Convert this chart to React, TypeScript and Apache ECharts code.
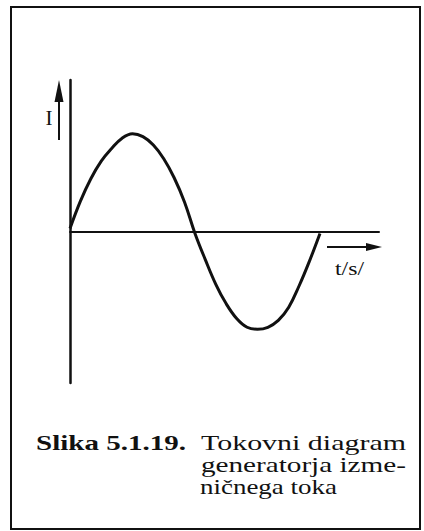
import React, { useEffect, useRef } from "react";
import * as echarts from "echarts";

// Time (arbitrary units, one full period = 360)
const tValues = [0, 15, 30, 45, 60, 75, 90, 105, 120, 135, 150, 165, 180, 195, 210, 225, 240, 255, 270, 285, 300, 315, 330, 345, 360];
// Current I (relative to peak)
const iValues = [0.03, 0.31, 0.54, 0.72, 0.85, 0.955, 1.0, 0.97, 0.885, 0.745, 0.55, 0.3, -0.02, -0.29, -0.54, -0.74, -0.89, -0.98, -1.0, -0.98, -0.91, -0.775, -0.555, -0.3, -0.02];

const xLabel = "t/s/";
const yLabel = "I";
const captionBold = "Slika 5.1.19.";
const captionLines = ["Tokovni diagram", "generatorja izme-", "ničnega toka"];

const INK = "#111";
const FAMILY = "Liberation Serif";

function measure(text: string, font: string): number {
  const ctx = document.createElement("canvas").getContext("2d");
  if (!ctx) return text.length * 10;
  ctx.font = font;
  return ctx.measureText(text).width;
}

function stretchedText(text: string, x: number, y: number, size: number, weight: string, target: number) {
  const w = measure(text, `${weight} ${size}px "${FAMILY}"`);
  return {
    type: "text",
    x,
    y,
    scaleX: w > 0 ? target / w : 1,
    scaleY: 1,
    style: {
      text,
      fill: INK,
      fontFamily: FAMILY,
      fontSize: size,
      fontWeight: weight,
      textAlign: "left",
      textVerticalAlign: "middle",
    },
  };
}

export default function App() {
  const ref = useRef<HTMLDivElement>(null);

  useEffect(() => {
    if (!ref.current) return;
    const chart = echarts.init(ref.current, undefined, { renderer: "svg" });
    const data = tValues.map((t, i) => [t, iValues[i]]);
    chart.setOption({
      animation: false,
      backgroundColor: "#fff",
      grid: { left: 70, right: 45, top: 80, bottom: 148 },
      xAxis: {
        type: "value",
        min: 0,
        max: 445,
        axisLine: { show: true, onZero: true, lineStyle: { color: INK, width: 2 } },
        axisTick: { show: false },
        axisLabel: { show: false },
        splitLine: { show: false },
      },
      yAxis: {
        type: "value",
        min: -1.55,
        max: 1.55,
        axisLine: { show: true, onZero: false, lineStyle: { color: INK, width: 2.5 } },
        axisTick: { show: false },
        axisLabel: { show: false },
        splitLine: { show: false },
      },
      series: [
        {
          type: "line",
          data,
          smooth: 0.4,
          symbol: "none",
          lineStyle: { color: INK, width: 3 },
        },
      ],
      graphic: [
        // frame
        {
          type: "rect",
          shape: { x: 11, y: 7, width: 409, height: 522 },
          style: { fill: "none", stroke: INK, lineWidth: 2 },
        },
        // I arrow
        {
          type: "line",
          shape: { x1: 59, y1: 140, x2: 59, y2: 98 },
          style: { stroke: INK, lineWidth: 2 },
        },
        {
          type: "polygon",
          shape: { points: [[59, 80], [54.5, 102], [63.5, 102]] },
          style: { fill: INK },
        },
        {
          type: "text",
          x: 49,
          y: 118,
          style: {
            text: yLabel,
            fill: INK,
            fontFamily: FAMILY,
            fontSize: 21,
            textAlign: "center",
            textVerticalAlign: "middle",
          },
        },
        // t arrow
        {
          type: "line",
          shape: { x1: 327, y1: 247, x2: 370, y2: 247 },
          style: { stroke: INK, lineWidth: 1.8 },
        },
        {
          type: "polygon",
          shape: { points: [[382, 247], [366, 243], [366, 251]] },
          style: { fill: INK },
        },
        stretchedText(xLabel, 335, 269, 19, "normal", 29),
        // caption
        stretchedText(captionBold, 36, 443, 21, "bold", 150),
        stretchedText(captionLines[0], 201, 443, 21, "normal", 205),
        stretchedText(captionLines[1], 201, 465, 21, "normal", 205),
        stretchedText(captionLines[2], 200, 487, 21, "normal", 137),
      ],
    });
    return () => chart.dispose();
  }, []);

  return (
    <div
      ref={ref}
      style={{ position: "absolute", left: 0, top: 0, width: 424, height: 531, background: "#fff" }}
    />
  );
}
